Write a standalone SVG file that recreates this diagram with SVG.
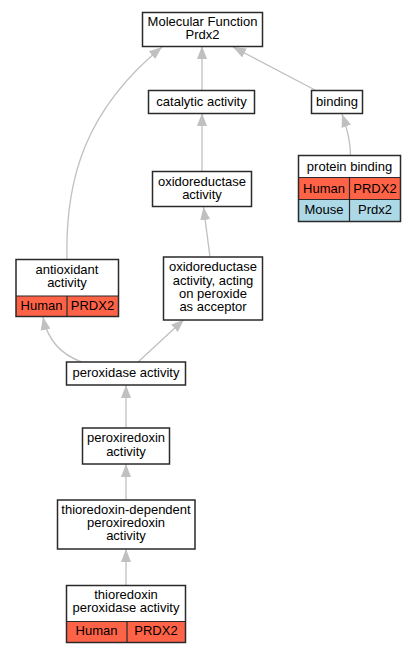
<svg xmlns="http://www.w3.org/2000/svg" width="416" height="653" viewBox="0 0 416 653">
<style>
.n{fill:#fff;stroke:#2a2a2a;stroke-width:1.5}
.c{stroke:#2a2a2a;stroke-width:1.2}
.h{fill:#ff6347}
.m{fill:#add8e6}
text{font-family:"Liberation Sans",Arial,sans-serif;font-size:13px;fill:#000;text-anchor:middle}
.e{fill:none;stroke:#c0c0c0;stroke-width:1.3}
</style>
<defs>
<marker id="a" markerUnits="userSpaceOnUse" markerWidth="13" markerHeight="10" refX="13" refY="5" orient="auto">
<path d="M0,0 L13,5 L0,10 z" fill="#c0c0c0"/>
</marker>
</defs>
<rect width="416" height="653" fill="#fff"/>
<g id="edges">
<path class="e" marker-end="url(#a)" d="M67,259 C65,180 85,110 162,47"/>
<path class="e" marker-end="url(#a)" d="M202,90 L202,46"/>
<path class="e" marker-end="url(#a)" d="M315,90 L233,47"/>
<path class="e" marker-end="url(#a)" d="M202,171 L202,113"/>
<path class="e" marker-end="url(#a)" d="M350.5,155 C350.5,143 347,128 342,114"/>
<path class="e" marker-end="url(#a)" d="M210,257 L203.5,207"/>
<path class="e" marker-end="url(#a)" d="M82,362 C62,355 48,342 43,317"/>
<path class="e" marker-end="url(#a)" d="M138,362 L184,319.5"/>
<path class="e" marker-end="url(#a)" d="M126,428 L126,385"/>
<path class="e" marker-end="url(#a)" d="M126,500 L126,464"/>
<path class="e" marker-end="url(#a)" d="M126,585 L126,549"/>
</g>
<g id="mf">
<rect class="n" x="142.5" y="12.5" width="120" height="34"/>
<text x="202.5" y="25.5">Molecular Function</text>
<text x="202.5" y="38.8">Prdx2</text>
</g>
<g id="catalytic">
<rect class="n" x="148.5" y="90.5" width="106" height="23"/>
<text x="201.5" y="105.5">catalytic activity</text>
</g>
<g id="binding">
<rect class="n" x="311.5" y="90.5" width="51" height="23"/>
<text x="337" y="105.5">binding</text>
</g>
<g id="protein-binding">
<rect x="298.5" y="155.5" width="102" height="66" fill="#fff"/>
<rect class="h" x="298.5" y="177.5" width="102" height="22"/>
<rect class="m" x="298.5" y="199.5" width="102" height="22"/>
<line class="c" x1="298.5" y1="177.5" x2="400.5" y2="177.5"/>
<line class="c" x1="298.5" y1="199.5" x2="400.5" y2="199.5"/>
<line class="c" x1="349.5" y1="177.5" x2="349.5" y2="221.5"/>
<rect x="298.5" y="155.5" width="102" height="66" fill="none" stroke="#2a2a2a" stroke-width="1.5"/>
<text x="349.5" y="170.5">protein binding</text>
<text x="324" y="192.5">Human</text>
<text x="375" y="192.5">PRDX2</text>
<text x="324" y="213.8">Mouse</text>
<text x="375" y="213.8">Prdx2</text>
</g>
<g id="oxidoreductase">
<rect class="n" x="152.5" y="171.5" width="99" height="35"/>
<text x="202" y="185.5">oxidoreductase</text>
<text x="202" y="198.8">activity</text>
</g>
<g id="antioxidant">
<rect x="16" y="259.5" width="102.5" height="57" fill="#fff"/>
<rect class="h" x="16" y="296" width="102.5" height="20.5"/>
<line class="c" x1="16" y1="296" x2="118.5" y2="296"/>
<line class="c" x1="67" y1="296" x2="67" y2="316.5"/>
<rect x="16" y="259.5" width="102.5" height="57" fill="none" stroke="#2a2a2a" stroke-width="1.5"/>
<text x="67" y="273.8">antioxidant</text>
<text x="67" y="287.1">activity</text>
<text x="41.5" y="309.8">Human</text>
<text x="92.5" y="309.8">PRDX2</text>
</g>
<g id="acting">
<rect class="n" x="163.5" y="257" width="99" height="63"/>
<text x="213" y="271.2">oxidoreductase</text>
<text x="213" y="284.5">activity, acting</text>
<text x="213" y="297.8">on peroxide</text>
<text x="213" y="311.1">as acceptor</text>
</g>
<g id="peroxidase">
<rect class="n" x="66.5" y="362" width="119" height="23"/>
<text x="126" y="377">peroxidase activity</text>
</g>
<g id="peroxiredoxin">
<rect class="n" x="82.5" y="428" width="87" height="36"/>
<text x="126" y="442.3">peroxiredoxin</text>
<text x="126" y="455.6">activity</text>
</g>
<g id="thioredoxin-dependent">
<rect class="n" x="57.5" y="500" width="137.5" height="49"/>
<text x="126" y="513.6">thioredoxin-dependent</text>
<text x="126" y="526.9">peroxiredoxin</text>
<text x="126" y="540.2">activity</text>
</g>
<g id="thioredoxin-peroxidase">
<rect x="66.5" y="585.5" width="119" height="57" fill="#fff"/>
<rect class="h" x="66.5" y="621.5" width="119" height="21"/>
<line class="c" x1="66.5" y1="621.5" x2="185.5" y2="621.5"/>
<line class="c" x1="127" y1="621.5" x2="127" y2="642.5"/>
<rect x="66.5" y="585.5" width="119" height="57" fill="none" stroke="#2a2a2a" stroke-width="1.5"/>
<text x="126" y="598.6">thioredoxin</text>
<text x="126" y="611.9">peroxidase activity</text>
<text x="96.5" y="635">Human</text>
<text x="156" y="635">PRDX2</text>
</g>
</svg>
